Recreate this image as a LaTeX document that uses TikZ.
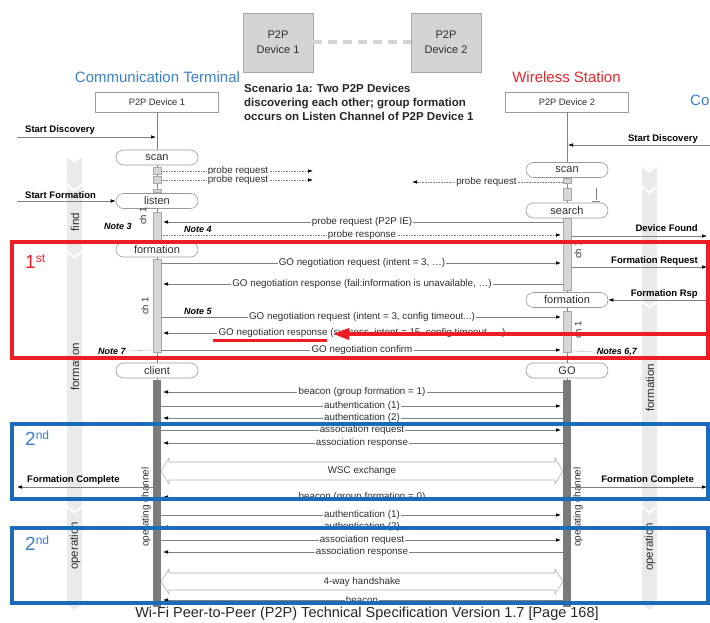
\documentclass[tikz,border=0pt]{standalone}
\usepackage{fontspec}
\setmainfont{Liberation Sans}
\usetikzlibrary{arrows.meta}

\definecolor{linegray}{HTML}{808080}
\definecolor{txtgray}{HTML}{2E2E2E}
\definecolor{boxgray}{HTML}{9A9A9A}
\definecolor{bandgray}{HTML}{EAEAEA}
\definecolor{opgray}{HTML}{7A7A7A}
\definecolor{actfill}{HTML}{D6D6D6}
\definecolor{actdraw}{HTML}{A8A8A8}
\definecolor{devfill}{HTML}{D4D4D4}
\definecolor{devdraw}{HTML}{A6A6A6}
\definecolor{termblue}{HTML}{3A80C8}
\definecolor{stared}{HTML}{E5262B}
\definecolor{markred}{HTML}{EE1C25}
\definecolor{markblue}{HTML}{1A6CB8}
\definecolor{hollow}{HTML}{B0B0B0}

% message between the two channel bars at height #2
\newcommand\msgLR[3][msg]{%
  \coordinate (a#2) at (161,#2);\coordinate (b#2) at (563,#2);
  \draw[#1] (a#2) -- node[lbl] (t#2) {#3} (b#2);}
\newcommand\msgRL[3][msg]{%
  \coordinate (a#2) at (161,#2);\coordinate (b#2) at (563,#2);
  \draw[#1] (b#2) -- node[lbl] (t#2) {#3} (a#2);}
% phase band segment: x from #1 to #2, y from #3 to #4
\newcommand\bandseg[4]{%
  \fill[bandgray] (#1,#3) -- ({(#1+#2)/2},{#3+6}) -- (#2,#3) -- (#2,#4)
    -- ({(#1+#2)/2},{#4+6}) -- (#1,#4) -- cycle;}
% hollow double arrow between the bars
\newcommand\fatarrow[4]{%
  \draw[draw=hollow, line width=0.6pt, line join=round]
    (161,{(#2+#3)/2}) -- (169,{#2-4}) -- (169,#2) -- (555,#2) -- (555,{#2-4})
    -- (563,{(#2+#3)/2}) -- (555,{#3+4}) -- (555,#3) -- (169,#3) -- (169,{#3+4}) -- cycle;
  \node[lbl, fill=none] (#1) at (362,{(#2+#3)/2}) {#4};}

\begin{document}
\begin{tikzpicture}[x=1pt,y=-1pt,
  msg/.style={draw=linegray, line width=0.6pt,
    -{Latex[length=5pt,width=3.6pt,color=black]}, shorten >=2pt},
  probe/.style={msg, densely dotted},
  lbl/.style={fill=white, inner sep=1.2pt, text=txtgray, font=\fontsize{9.8}{10}\selectfont},
  state/.style={draw=boxgray, fill=white, line width=0.6pt, rounded corners=7.5pt,
    minimum width=82pt, minimum height=15pt, inner sep=0pt, text=txtgray,
    font=\fontsize{11}{11}\selectfont},
  lifebox/.style={draw=boxgray, fill=white, line width=0.6pt, minimum width=123pt,
    minimum height=20pt, inner sep=0pt, text=txtgray, font=\fontsize{9.3}{10}\selectfont},
  devbox/.style={draw=devdraw, fill=devfill, line width=0.8pt, minimum width=70pt,
    minimum height=59pt, align=center, text=txtgray, font=\fontsize{11}{15}\selectfont},
  ctl/.style={text=black, inner sep=0pt, font=\bfseries\fontsize{9.5}{10}\selectfont},
  ctlarrow/.style={draw=linegray, line width=0.6pt,
    -{Latex[length=5pt,width=3.6pt,color=black]}},
  note/.style={text=black, inner sep=0pt, font=\bfseries\itshape\fontsize{9}{9}\selectfont},
  chlbl/.style={rotate=90, text=txtgray, inner sep=0pt, font=\fontsize{9.5}{10}\selectfont},
  phase/.style={rotate=90, text=txtgray, inner sep=0pt, font=\fontsize{11.5}{12}\selectfont},
  act/.style={draw=actdraw, fill=actfill, line width=0.4pt},
  hlbox/.style={line width=4pt},
]
\useasboundingbox (0,0) rectangle (710,623);

% ---------- header ----------
\node[devbox] (top1) at (278,42.5) {P2P\\Device 1};
\node[devbox] (top2) at (446,42.5) {P2P\\Device 2};
\draw[devfill, line width=4pt, dash pattern=on 9pt off 6pt] (top1) -- (top2);

\node[text=termblue, font=\fontsize{15}{15}\selectfont] (ct) at (157.5,77) {Communication Terminal};
\node[text=stared, font=\fontsize{15}{15}\selectfont] (ws) at (566.5,77) {Wireless Station};
\node[text=termblue, font=\fontsize{15}{15}\selectfont, anchor=west, inner sep=0pt] (ct2) at (690,100) {Co};
\node[anchor=north west, align=left, inner sep=0pt, text=black!85,
  font=\bfseries\fontsize{11.5}{14}\selectfont] (scen) at (244,84)
  {Scenario 1a: Two P2P Devices\\discovering each other; group formation\\occurs on Listen Channel of P2P Device 1};

% ---------- phase bands ----------
\bandseg{67}{82}{157}{183}
\bandseg{67}{82}{186}{250}
\bandseg{67}{82}{253}{505}
\bandseg{67}{82}{508}{604}
\bandseg{642}{657}{167}{185}
\bandseg{642}{657}{188}{300}
\bandseg{642}{657}{303}{505}
\bandseg{642}{657}{508}{604}
\node[phase] (pfindL) at (75,222) {find};
\node[phase] (pformL) at (75,367) {formation};
\node[phase] (popL) at (75,546) {operation};
\node[phase] (pformR) at (650,388) {formation};
\node[phase] (popR) at (650,547) {operation};

% ---------- lifelines ----------
\node[lifebox] (dev1) at (157,102) {P2P Device 1};
\node[lifebox] (dev2) at (567,102) {P2P Device 2};
\coordinate (endL) at (157,380);
\coordinate (endR) at (567,380);
\draw[linegray, line width=0.6pt] (dev1.south) -- (endL);
\draw[linegray, line width=0.6pt] (dev2.south) -- (endR);

% activity on channel 1
\draw[act] (153,167) rectangle (161,174);
\draw[act] (153,176) rectangle (161,183);
\draw[act] (153,189) rectangle (161,192);
\draw[act] (153,212) rectangle (161,241);
\draw[act] (153,259) rectangle (161,352);
\draw[act] (563,178) rectangle (571,183);
\draw[act] (563,188) rectangle (571,200);
\draw[act] (563,218) rectangle (571,241);
\draw[act] (563,241) rectangle (571,290);
\draw[act] (563,311) rectangle (571,352);
\draw[linegray, line width=0.5pt] (596,188) -- (596,200) (592,201) -- (600,201);

% operating channel
\fill[opgray] (153,380) rectangle (161,607);
\fill[opgray] (563,380) rectangle (571,607);

% ---------- states ----------
\node[state] (scanL) at (157,157.5) {scan};
\node[state] (listenL) at (157,201) {listen};
\node[state] (formL) at (157,249.5) {formation};
\node[state] (clientL) at (157,370.5) {client};
\node[state] (scanR) at (567,170) {scan};
\node[state] (searchR) at (567,210.5) {search};
\node[state] (formR) at (567,300) {formation};
\node[state] (goR) at (567,370.5) {GO};

% channel labels
\node[chlbl] (ch1a) at (143,216) {ch 1};
\node[chlbl] (ch1b) at (145,306) {ch 1};
\node[chlbl] (ch1c) at (578,250) {ch 1};
\node[chlbl] (ch1d) at (578,330) {ch 1};
\node[chlbl, font=\fontsize{10}{10}\selectfont] (opL) at (146,507) {operating channel};
\node[chlbl, font=\fontsize{10}{10}\selectfont] (opR) at (578,507) {operating channel};

% ---------- find phase ----------
\coordinate (pa1) at (161,171); \coordinate (pb1) at (315,171);
\draw[probe] (pa1) -- node[lbl] (pr1) {probe request} (pb1);
\coordinate (pa2) at (161,180); \coordinate (pb2) at (315,180);
\draw[probe] (pa2) -- node[lbl] (pr2) {probe request} (pb2);
\coordinate (pa3) at (563,182); \coordinate (pb3) at (410,182);
\draw[probe] (pa3) -- node[lbl] (pr3) {probe request} (pb3);
\msgRL{222}{probe request (P2P IE)}
\msgLR[probe]{235}{probe response}

% ---------- formation phase ----------
\msgLR{263}{GO negotiation request (intent = 3, \dots)}
\msgRL{284}{GO negotiation response (fail:information is unavailable, \dots)}
\msgLR{317}{GO negotiation request (intent = 3, config timeout...)}
\msgRL{333}{GO negotiation response (success, intent = 15, config timeout, \dots)}
\msgLR{350}{GO negotiation confirm}

\msgRL{392}{beacon (group formation = 1)}
\msgLR{406}{authentication (1)}
\msgRL{418}{authentication (2)}
\msgLR{430}{association request}
\msgRL{443}{association response}
\fatarrow{wsc}{462}{480}{WSC exchange}
\msgRL{497}{beacon (group formation = 0)}

% ---------- operation phase ----------
\msgLR{515}{authentication (1)}
\msgRL{527}{authentication (2)}
\msgLR{540}{association request}
\msgRL{552}{association response}
\fatarrow{fourway}{573}{590}{4-way handshake}
\msgRL{600}{beacon}

% ---------- notes ----------
\node[note] (n3) at (118,226) {Note 3};
\node[note] (n4) at (198,229) {Note 4};
\node[note] (n5) at (198,311) {Note 5};
\node[note] (n7) at (112,351) {Note 7};
\node[note] (n67) at (617,352) {Notes 6,7};
\coordinate (n7e) at (153,350);
\draw[linegray, densely dotted, line width=0.6pt] (n7.east) -- (n7e);
\coordinate (n67e) at (571,351);
\draw[linegray, densely dotted, line width=0.6pt] (n67e) -- (n67.west);

% ---------- application events ----------
\node[ctl, anchor=west] (sdL) at (25,130) {Start Discovery};
\coordinate (sdL0) at (17,137); \coordinate (sdL1) at (156,137);
\draw[ctlarrow] (sdL0) -- (sdL1);
\node[ctl, anchor=east] (sdR) at (698,139) {Start Discovery};
\coordinate (sdR0) at (710,145); \coordinate (sdR1) at (568,145);
\draw[ctlarrow] (sdR0) -- (sdR1);
\node[ctl, anchor=west] (sf) at (25,195) {Start Formation};
\coordinate (sf0) at (17,201);
\draw[ctlarrow] (sf0) -- (listenL.west);
\node[ctl, anchor=east] (df) at (698,228) {Device Found};
\coordinate (df0) at (571,236); \coordinate (df1) at (707,236);
\draw[ctlarrow] (df0) -- (df1);
\node[ctl, anchor=east] (fq) at (698,261) {Formation Request};
\coordinate (fq0) at (571,267); \coordinate (fq1) at (707,267);
\draw[ctlarrow] (fq0) -- (fq1);
\node[ctl, anchor=east] (fr) at (698,294) {Formation Rsp};
\coordinate (fr0) at (708,300);
\draw[ctlarrow] (fr0) -- (formR.east);
\node[ctl, anchor=west] (fcL) at (27,480) {Formation Complete};
\coordinate (fcL0) at (153,487); \coordinate (fcL1) at (17,487);
\draw[ctlarrow] (fcL0) -- (fcL1);
\node[ctl, anchor=east] (fcR) at (694,480) {Formation Complete};
\coordinate (fcR0) at (571,487); \coordinate (fcR1) at (707,487);
\draw[ctlarrow] (fcR0) -- (fcR1);

% ---------- caption ----------
\node[text=black!85, font=\fontsize{14.5}{15}\selectfont, inner sep=0pt] (cap) at (367,614)
  {Wi-Fi Peer-to-Peer (P2P) Technical Specification Version 1.7 [Page 168]};

% ---------- highlight marks ----------
\draw[markred, hlbox] (12,242) rectangle (708,358);
\node[text=markred, anchor=west, inner sep=0pt] (first) at (25,262)
  {\fontsize{19}{19}\selectfont 1\raisebox{6pt}{\fontsize{12}{12}\selectfont st}};
\coordinate (hl0) at (213,340); \coordinate (hl1) at (327,340);
\draw[markred, line width=3pt] (hl0) -- (hl1);
\coordinate (ra0) at (710,334); \coordinate (ra1) at (333,334);
\draw[markred, line width=3.5pt, -{Triangle[length=16pt,width=11pt]}] (ra0) -- (ra1);

\draw[markblue, hlbox] (12,424) rectangle (708,499);
\node[text=termblue, anchor=west, inner sep=0pt] (second1) at (25,438)
  {\fontsize{19}{19}\selectfont 2\raisebox{6pt}{\fontsize{12}{12}\selectfont nd}};
\draw[markblue, hlbox] (12,528) rectangle (708,603);
\node[text=termblue, anchor=west, inner sep=0pt] (second2) at (25,543)
  {\fontsize{19}{19}\selectfont 2\raisebox{6pt}{\fontsize{12}{12}\selectfont nd}};
\end{tikzpicture}
\end{document}
